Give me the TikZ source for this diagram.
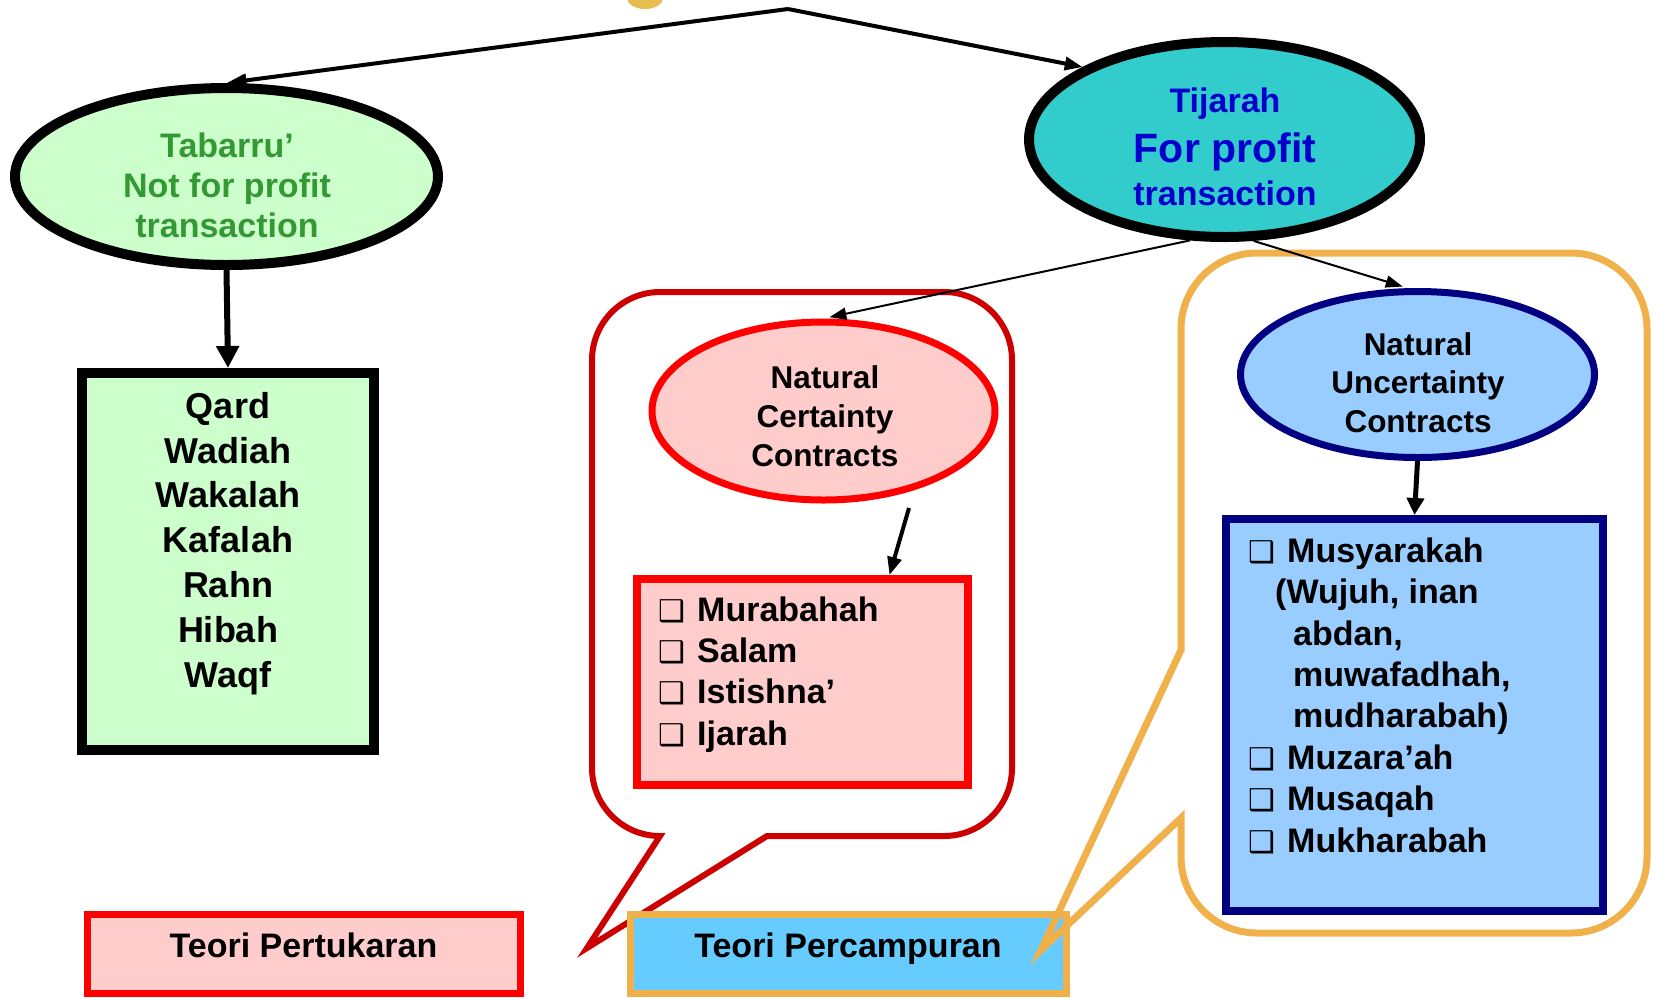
\documentclass[tikz,border=0pt]{standalone}
\usepackage{fontspec}
\setmainfont{Liberation Sans}
\newfontfamily\symfont{DejaVu Sans}
\usetikzlibrary{arrows.meta,shapes.geometric}
\definecolor{lgreen}{HTML}{CCFFCC}
\definecolor{tgreen}{HTML}{339933}
\definecolor{tealc}{HTML}{33CCCC}
\definecolor{tblue}{HTML}{0000CC}
\definecolor{pinkc}{HTML}{FFCCCC}
\definecolor{redc}{HTML}{FF0000}
\definecolor{dredc}{HTML}{CC0000}
\definecolor{lblue}{HTML}{99CCFF}
\definecolor{navyc}{HTML}{000080}
\definecolor{orangec}{HTML}{F0B04A}
\definecolor{skyc}{HTML}{66CCFF}
\definecolor{blobc}{HTML}{E6BE50}
\newcommand{\cbx}{\makebox[39pt][l]{\symfont\bfseries\fontsize{30}{30}\selectfont ❑}}
\begin{document}
\begin{tikzpicture}[x=1pt,y=-1pt,
  ell/.style={ellipse, draw, inner sep=0pt},
  boxst/.style={rectangle, draw, inner sep=0pt},
  txt/.style={inner sep=0pt},
  callout/.style={line join=miter, miter limit=30, line width=7pt},
  thinarr/.style={line width=2pt, -{Triangle[length=17pt,width=12pt]}},
  midarr/.style={line width=4pt, -{Triangle[length=18pt,width=14pt]}},
  bigarr/.style={line width=6pt, -{Triangle[length=22pt,width=22pt]}},
  ]
\useasboundingbox (0,0) rectangle (1653,997);
\clip (0,0) rectangle (1653,997);

% fragment of picture at the top
\fill[blobc] (645,-2) ellipse [x radius=18, y radius=11];

% red speech callout
\draw[callout, draw=dredc, line width=6pt]
  (660,292) -- (944,292) .. controls (981.5,292) and (1012,322.5) .. (1012,360)
  -- (1012,768) .. controls (1012,805.5) and (981.5,836) .. (944,836)
  -- (767,836) -- (587,948) -- (660,836)
  .. controls (622.5,836) and (592,805.5) .. (592,768)
  -- (592,360) .. controls (592,322.5) and (622.5,292) .. (660,292) -- cycle;

% top ellipses
\node[ell, fill=lgreen, line width=10pt, minimum width=423pt, minimum height=177pt] (tab) at (226.5,176.5) {};
\node[txt, text=tgreen, align=center, anchor=base, font=\bfseries\fontsize{34}{40}\selectfont] (tabT) at (227,237) {Tabarru’\\Not for profit\\transaction};

\node[ell, fill=tealc, line width=10pt, minimum width=391pt, minimum height=195pt] (tij) at (1224.5,139.5) {};
\node[txt, text=tblue, anchor=base, font=\bfseries\fontsize{34}{34}\selectfont] (tijA) at (1225,112) {Tijarah};
\node[txt, text=tblue, anchor=base, font=\bfseries\fontsize{41}{41}\selectfont] (tijB) at (1225,162) {For profit};
\node[txt, text=tblue, anchor=base, font=\bfseries\fontsize{34}{34}\selectfont] (tijC) at (1225,205) {transaction};

% left branch box
\node[boxst, fill=lgreen, line width=10pt, minimum width=292pt, minimum height=377pt] (qard) at (228,561.5) {};
\node[txt, align=center, anchor=base, font=\bfseries\fontsize{36}{44.8}\selectfont] (qardT) at (228,687) {Qard\\Wadiah\\Wakalah\\Kafalah\\Rahn\\Hibah\\Waqf};

% certainty
\node[ell, fill=pinkc, draw=redc, line width=7pt, minimum width=343pt, minimum height=178pt] (cert) at (823.5,411) {};
\node[txt, align=center, anchor=base, font=\bfseries\fontsize{31.5}{39}\selectfont] (certT) at (825,466) {Natural\\Certainty\\Contracts};
\node[boxst, fill=pinkc, draw=redc, line width=8pt, minimum width=331pt, minimum height=206pt] (mur) at (802.5,682) {};
\node[txt, align=left, anchor=base west, font=\bfseries\fontsize{34}{41.3}\selectfont] (murT) at (658,745) {\cbx Murabahah\\\cbx Salam\\\cbx Istishna’\\\cbx Ijarah};

% uncertainty
\node[ell, fill=lblue, draw=navyc, line width=7pt, minimum width=354pt, minimum height=166pt] (unc) at (1417.5,374.5) {};
\node[txt, align=center, anchor=base, font=\bfseries\fontsize{31.5}{38.5}\selectfont] (uncT) at (1418,432) {Natural\\Uncertainty\\Contracts};
\node[boxst, fill=lblue, draw=navyc, line width=8pt, minimum width=377pt, minimum height=392pt] (mus) at (1414.5,715) {};
\node[txt, align=left, anchor=base west, font=\bfseries\fontsize{34}{41.4}\selectfont] (musT) at (1248,852) {\cbx Musyarakah\\\hspace*{27pt}(Wujuh, inan\\\hspace*{45pt}abdan,\\\hspace*{45pt}muwafadhah,\\\hspace*{45pt}mudharabah)\\\cbx Muzara’ah\\\cbx Musaqah\\\cbx Mukharabah};

% bottom theory boxes
\node[boxst, fill=pinkc, draw=redc, line width=7pt, minimum width=433pt, minimum height=79pt] (tuk) at (303.5,953.5) {};
\node[txt, anchor=base, font=\bfseries\fontsize{34}{34}\selectfont] (tukT) at (303.5,957) {Teori Pertukaran};
\node[boxst, fill=skyc, draw=orangec, line width=7pt, minimum width=436pt, minimum height=79pt] (cam) at (848,953.5) {};
\node[txt, anchor=base, font=\bfseries\fontsize{34}{34}\selectfont] (camT) at (848,957) {Teori Percampuran};

% orange speech callout
\draw[callout, draw=orangec]
  (1257,253) -- (1571,253) .. controls (1613,253) and (1647,287) .. (1647,329)
  -- (1647,857) .. controls (1647,899) and (1613,933) .. (1571,933)
  -- (1257,933) .. controls (1215,933) and (1181,899) .. (1181,857)
  -- (1181,818) -- (1041,950) -- (1181,650)
  -- (1181,329) .. controls (1181,287) and (1215,253) .. (1257,253) -- cycle;

% connectors
\coordinate (apex) at (788,9);
\draw[line width=4pt, -{Triangle[length=20pt,width=13pt]}] (apex) -- (tab.north);
\draw[line width=4pt, -{Triangle[length=18pt,width=13pt]}] (apex) -- (tij.north west);
\draw[bigarr] (tab.south) -- (qard.north);
\draw[thinarr, shorten >=6pt] (tij.251) -- (cert.north);
\draw[thinarr, shorten >=5pt] (tij.286) -- ([xshift=-10pt]unc.north);
\coordinate (certOut) at (909,508);
\draw[midarr] (certOut) -- ([xshift=87pt]mur.north);
\draw[line width=5pt, -{Triangle[length=17pt,width=17pt]}] (unc.south) -- (mus.north);
\end{tikzpicture}
\end{document}
